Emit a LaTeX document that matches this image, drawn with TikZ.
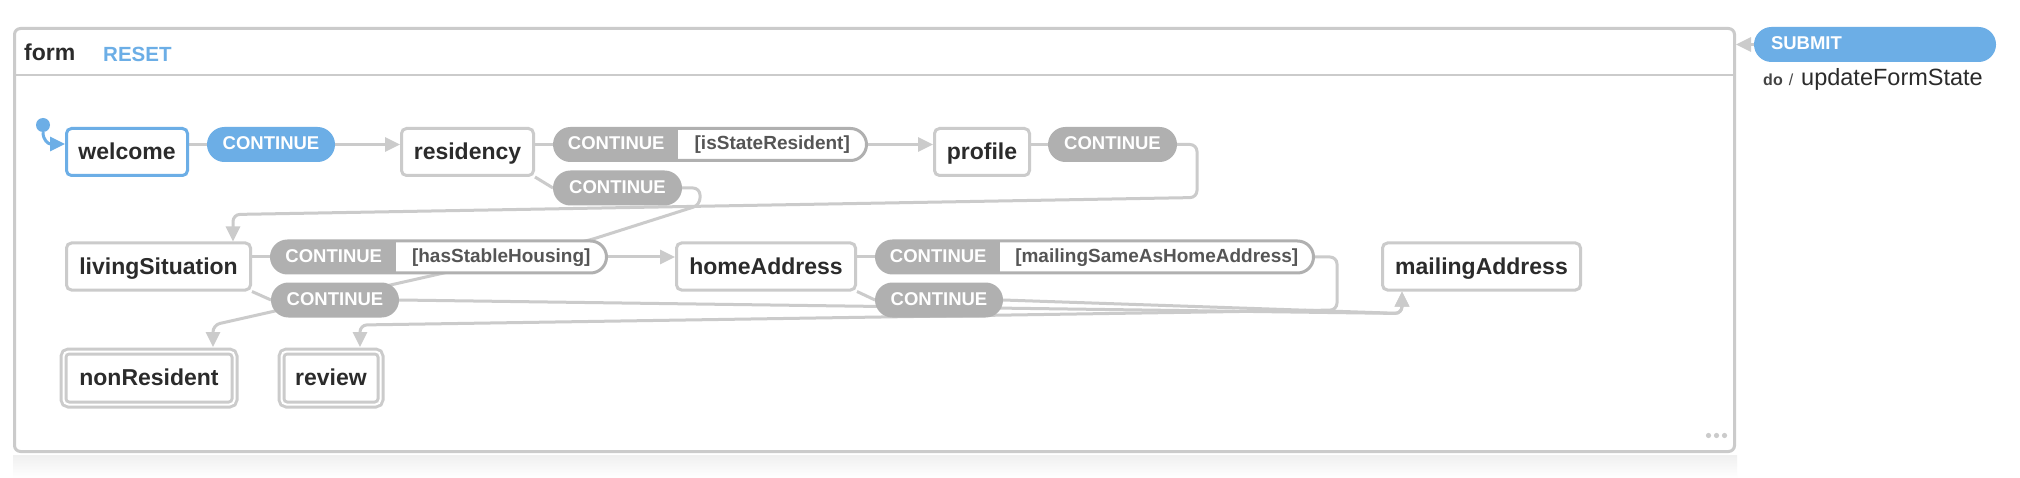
\documentclass[tikz,border=0pt]{standalone}
\usepackage{fontspec}
\setmainfont{Liberation Sans}
\usepackage{tikz}
\usetikzlibrary{arrows.meta,positioning,calc,backgrounds}
\definecolor{Ink}{HTML}{2B2B2B}
\definecolor{Edge}{HTML}{CBCBCB}
\definecolor{Pill}{HTML}{B0B0B0}
\definecolor{Sky}{HTML}{6CAEE6}
\definecolor{Guard}{HTML}{555555}
\definecolor{Dim}{HTML}{444444}
\newcommand{\stfont}{\fontsize{23}{26}\selectfont\bfseries}
\newcommand{\evfont}{\fontsize{18.5}{20}\selectfont\bfseries}
\newcommand{\gdfont}{\fontsize{19}{21}\selectfont\bfseries}
\tikzset{
  >={Triangle[length=15pt,width=14pt]},
  st/.style={rectangle,rounded corners=5pt,draw=Edge,line width=3pt,fill=white,minimum height=47pt,inner sep=0pt,text height=15.5pt,text depth=0pt,font=\stfont,text=Ink},
  active/.style={st,draw=Sky},
  terminal/.style={st,double=white,double distance=2pt,minimum height=53pt,outer sep=4.5pt},
  ev/.style={rectangle,rounded corners=16pt,fill=Pill,draw=Pill,line width=3pt,minimum height=32pt,inner sep=0pt,text height=11pt,text depth=0pt,font=\evfont,text=white},
  evg/.style={ev,fill=white,path picture={\fill[Pill,sharp corners] (path picture bounding box.north west) rectangle ([xshift=#1]path picture bounding box.south west);}},
  link/.style={draw=Edge,line width=3pt},
  trans/.style={link,->,rounded corners=7pt},
  lab/.style={anchor=base west,inner sep=0pt}
}
\begin{document}
\begin{tikzpicture}[x=1pt,y=-1pt]
  \useasboundingbox (0,0) rectangle (2020,478);
  \begin{scope}[on background layer]
    \fill[white] (0,0) rectangle (2020,478);
    \shade[top color=black!6,bottom color=white] (13,455) rectangle (1737,478);
  \end{scope}
  % form
  \node[draw=Edge,line width=3pt,rounded corners=6pt,minimum width=1720pt,minimum height=423pt,inner sep=0pt] (form) at (874.5,240) {};
  \draw[Edge,line width=2pt] ($(form.north west)+(0,48)$) -- ($(form.north east)+(0,48)$);
  \node[lab,font=\fontsize{23}{26}\selectfont\bfseries,text=Ink] (formlab) at (24,61) {form};
  \node[lab,font=\fontsize{20.5}{22}\selectfont\bfseries,text=Sky] (reset) at (103,62) {RESET};
  \foreach \i in {0,1,2} \fill[Edge] ($(form.south east)+(-27.5+8*\i,-17.5)$) circle (2.6pt);
  % submit
  \node[ev,fill=Sky,draw=Sky,minimum width=239pt,text width=208pt,align=left,inner xsep=15.5pt] (submit) at (1875,44.5) {SUBMIT};
  \node[lab,text=Dim] (act) at (1763,86) {{\fontsize{16}{18}\selectfont\bfseries do}\hspace{6pt}{\fontsize{16}{18}\selectfont/}\hspace{8pt}{\fontsize{23.5}{26}\selectfont\color{Ink}updateFormState}};
  % states
  \node[circle,fill=Sky,minimum size=14pt,inner sep=0pt] (init) at (43,125) {};
  \node[active,minimum width=121pt] (welcome) at (127,152) {welcome};
  \node[st,minimum width=132pt] (residency) at (467.5,152) {residency};
  \node[st,minimum width=95pt] (profile) at (982,152) {profile};
  \node[st,minimum width=184pt] (living) at (158.5,266.5) {livingSituation};
  \node[st,minimum width=179pt] (home) at (766,266.5) {homeAddress};
  \node[st,minimum width=198pt] (mailing) at (1481.5,266.5) {mailingAddress};
  \node[terminal,minimum width=171pt] (nonres) at (149,378) {nonResident};
  \node[terminal,minimum width=99pt] (review) at (331,378) {review};
  % events
  \node[ev,fill=Sky,draw=Sky,minimum width=125pt] (e1) at (271,144.5) {CONTINUE};
  \node[evg=123.5pt] (e2) at (710.5,144.5) {\makebox[123.5pt]{CONTINUE}\makebox[188.5pt]{\gdfont\color{Guard}[isStateResident]}};
  \node[ev,minimum width=126pt] (e3) at (617.5,188) {CONTINUE};
  \node[ev,minimum width=126pt] (e4) at (1112.5,144.5) {CONTINUE};
  \node[evg=124.5pt] (e5) at (439,257) {\makebox[124.5pt]{CONTINUE}\makebox[210.5pt]{\gdfont\color{Guard}[hasStableHousing]}};
  \node[ev,minimum width=125pt] (e6) at (335,300) {CONTINUE};
  \node[evg=123.5pt] (e7) at (1095,257) {\makebox[123.5pt]{CONTINUE}\makebox[313.5pt]{\gdfont\color{Guard}[mailingSameAsHomeAddress]}};
  \node[ev,minimum width=125pt] (e8) at (939,300) {CONTINUE};
  % transitions
  \begin{scope}[on background layer]
    \draw[trans,draw=Sky] (init) .. controls (43,140) and (48,144) .. ($(welcome.west)+(0,-8)$);
    \draw[link] (welcome.east |- e1.west) -- (e1.west);
    \draw[trans] (e1.east) -- (e1.east -| residency.west);
    \draw[link] (residency.east |- e2.west) -- (e2.west);
    \draw[link] (residency.south east) -- (e3.west);
    \draw[trans] (e2.east) -- (e2.east -| profile.west);
    \draw[link] (profile.east |- e4.west) -- (e4.west);
    \draw[trans] (e4.east) -- ++(20,0) -- ++(0,53) -- ($(living.north east)+(-19,-27)$) -- ($(living.north east)+(-19,0)$);
    \draw[trans] (e3.east) -- ++(18,0) -- ++(0,17) -- (590,240) -- ($(nonres.north east)+(-26,-22)$) -- ($(nonres.north east)+(-26,0)$);
    \draw[link] (living.east |- e5.west) -- (e5.west);
    \draw[link] (living.south east) -- (e6.west);
    \draw[trans] (e5.east) -- (e5.east -| home.west);
    \draw[link] (home.east |- e7.west) -- (e7.west);
    \draw[link] (home.south east) -- (e8.west);
    \draw[trans] (e6.east) -- ($(mailing.south west)+(21,22)$) -- ($(mailing.south west)+(21,0)$);
    \draw[trans] (e8.east) -- ($(mailing.south west)+(21,22)$) -- ($(mailing.south west)+(21,0)$);
    \draw[trans] (e7.east) -- ++(22,0) -- ++(0,53) -- ($(review.north west)+(83,-22)$) -- ($(review.north west)+(83,0)$);
    \draw[trans] (submit.west) -- (submit.west -| form.east);
  \end{scope}
\end{tikzpicture}
\end{document}
